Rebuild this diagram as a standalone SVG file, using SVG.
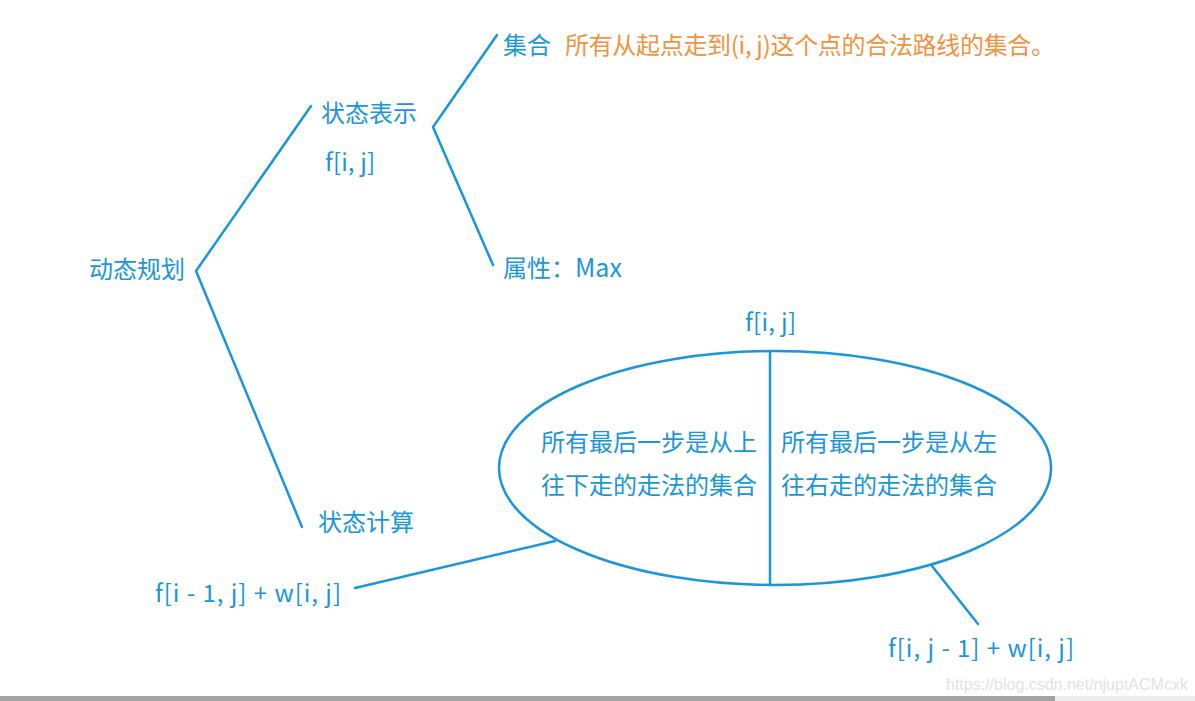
<svg xmlns="http://www.w3.org/2000/svg" width="1195" height="701" viewBox="0 0 1195 701">
<style>
.t{font-family:"Noto Sans CJK SC","Noto Sans",sans-serif;font-size:24px;fill:#1a96dc}
.o{fill:#f39240}
.l{stroke:#1a96dc;stroke-width:2.5;fill:none;stroke-linecap:round;stroke-linejoin:round}
.wm{font-family:"Liberation Sans",sans-serif;font-size:16px;fill:#e2e2e2}
</style>
<rect width="1195" height="701" fill="#fff"/>
<g id="connectors">
<polyline class="l" points="311,106 196,271 302,527"/>
<polyline class="l" points="497,35 433,127 493,265"/>
<line class="l" x1="355" y1="588" x2="555" y2="541"/>
<line class="l" x1="932" y1="566" x2="978" y2="624"/>
</g>
<g id="root"><text class="t" x="89" y="278">动态规划</text></g>
<g id="state-repr"><text class="t" x="321" y="122">状态表示</text><text class="t" x="325" y="171" textLength="50" lengthAdjust="spacing">f[i, j]</text></g>
<g id="set"><text class="t" x="503" y="54">集合</text><text class="t o" x="565" y="54" textLength="490" lengthAdjust="spacing">所有从起点走到(i, j)这个点的合法路线的集合。</text></g>
<g id="attr"><text class="t" x="503" y="277">属性：<tspan font-size="25">Max</tspan></text></g>
<g id="state-calc"><text class="t" x="318" y="531">状态计算</text></g>
<g id="fij"><text class="t" x="745" y="331" textLength="51" lengthAdjust="spacing">f[i, j]</text></g>
<g id="ellipse">
<ellipse class="l" cx="775" cy="468" rx="276" ry="117"/>
<line class="l" x1="770" y1="352" x2="770" y2="584"/>
<text class="t" x="541" y="451">所有最后一步是从上</text>
<text class="t" x="541" y="494">往下走的走法的集合</text>
<text class="t" x="781" y="451">所有最后一步是从左</text>
<text class="t" x="781" y="494">往右走的走法的集合</text>
</g>
<g id="left-term"><text class="t" x="155" y="602" textLength="186" lengthAdjust="spacing">f[i - 1, j] + w[i, j]</text></g>
<g id="right-term"><text class="t" x="888" y="657" textLength="186" lengthAdjust="spacing">f[i, j - 1] + w[i, j]</text></g>
<text class="wm" x="946" y="690">https://blog.csdn.net/njuptACMcxk</text>
<rect x="0" y="696" width="1055" height="5" fill="#a3a3a3"/>
<rect x="1055" y="696" width="140" height="5" fill="#ececec"/>
</svg>
